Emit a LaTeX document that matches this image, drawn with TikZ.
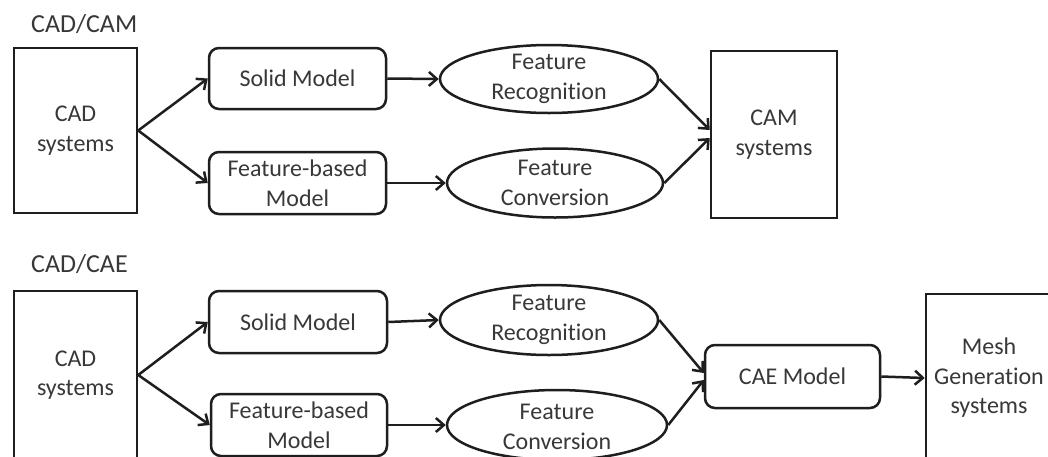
\documentclass[tikz,border=0pt]{standalone}
\usepackage{fontspec}
\setmainfont{Carlito}[Ligatures={NoCommon}]
\usetikzlibrary{shapes.geometric,arrows.meta}
\definecolor{txt}{HTML}{383838}
\definecolor{ln}{HTML}{1E1E1E}
\begin{document}
\begin{tikzpicture}[x=1pt,y=-1pt,
  every node/.style={font=\fontsize{24}{29.5}\selectfont, text=txt, inner sep=0pt, align=center},
  sysbox/.style={draw=ln, line width=2.5pt, rectangle},
  modelbox/.style={draw=ln, line width=2.5pt, rectangle, rounded corners=10pt},
  oval/.style={draw=ln, line width=2.5pt, ellipse},
  titletext/.style={font=\fontsize{26}{31}\selectfont, anchor=base west},
  arr/.style={draw=ln, line width=2.5pt, -{Straight Barb[length=8pt,width=14pt]}}
]
\clip (0,0) rectangle (1048,456);
\fill[white] (0,0) rectangle (1048,456);

% ---------- CAD/CAM ----------
\node[titletext] (t1) at (31,32) {CAD/CAM};
\node[sysbox, minimum width=123pt, minimum height=165pt] (cad1) at (75.5,130.5) {CAD\\systems};
\node[modelbox, minimum width=177pt, minimum height=61pt] (sm1) at (297.5,78.5) {Solid Model};
\node[modelbox, minimum width=177pt, minimum height=62pt] (fb1) at (297.5,183) {Feature-based\\Model};
\node[oval, minimum width=218pt, minimum height=68pt] (fr1) at (549,79) {};
\node (fr1t) at (fr1.center) {Feature\\Recognition};
\node[oval, minimum width=216pt, minimum height=69pt] (fc1) at (555,183) {};
\node (fc1t) at (fc1.center) {Feature\\Conversion};
\node[sysbox, minimum width=126pt, minimum height=167pt] (cam) at (774,134.5) {CAM\\systems};

\draw[arr] (cad1.east) -- (sm1.west);
\draw[arr] (cad1.east) -- (fb1.west);
\draw[arr] (sm1.east) -- (fr1.west);
\draw[arr] (fb1.east) -- (fc1.west);
\draw[arr] (fr1.east) -- ([yshift=4.5pt]cam.west);
\draw[arr] (fc1.east) -- ([yshift=-3.5pt]cam.west);

% ---------- CAD/CAE ----------
\node[titletext] (t2) at (31,272) {CAD/CAE};
\node[sysbox, minimum width=123pt, minimum height=168pt] (cad2) at (75.5,375) {CAD\\systems};
\node[modelbox, minimum width=178pt, minimum height=62pt] (sm2) at (298,322) {Solid Model};
\node[modelbox, minimum width=176pt, minimum height=62pt] (fb2) at (299,425) {Feature-based\\Model};
\node[oval, minimum width=218pt, minimum height=70pt] (fr2) at (549,320) {};
\node (fr2t) at (fr2.center) {Feature\\Recognition};
\node[oval, minimum width=220pt, minimum height=70pt] (fc2) at (557,425) {};
\node (fc2t) at ([yshift=-2pt]fc2.center) {Feature\\Conversion};
\node[modelbox, minimum width=175pt, minimum height=63pt] (cae) at (792.5,376.5) {CAE Model};
\node[sysbox, minimum width=126pt, minimum height=168pt] (mesh) at (989,378) {Mesh\\Generation\\systems};

\draw[arr] (cad2.east) -- (sm2.west);
\draw[arr] (cad2.east) -- (fb2.west);
\draw[arr] (sm2.east) -- (fr2.west);
\draw[arr] (fb2.east) -- (fc2.west);
\draw[arr] (fr2.east) -- ([yshift=3.5pt]cae.west);
\draw[arr] (fc2.east) -- ([yshift=-3.5pt]cae.west);
\draw[arr] (cae.east) -- (mesh.west);
\end{tikzpicture}
\end{document}
